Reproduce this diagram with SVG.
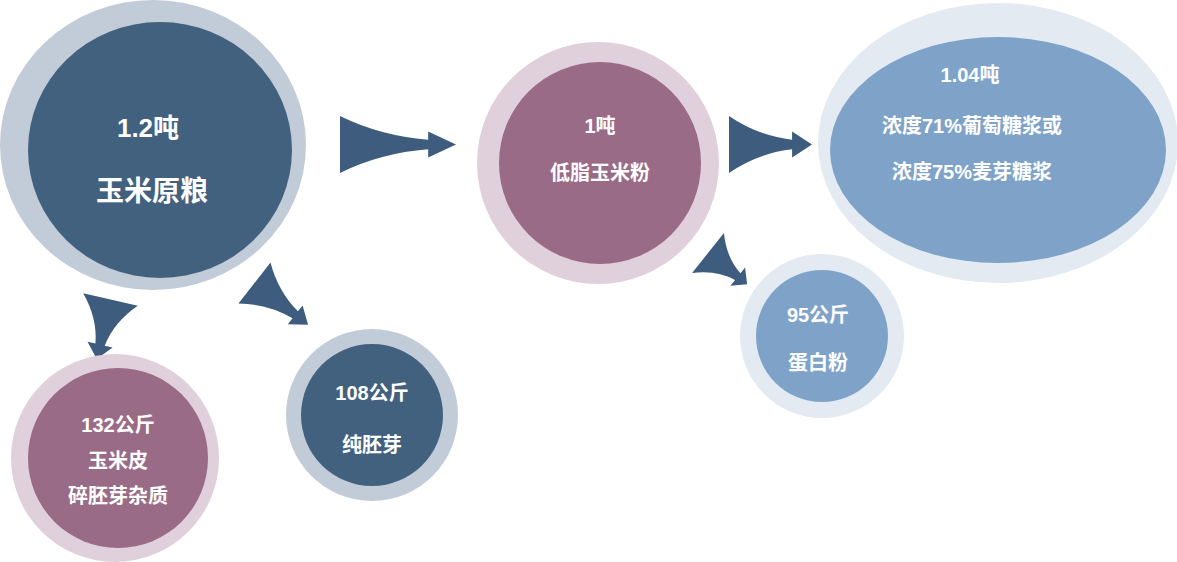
<svg xmlns="http://www.w3.org/2000/svg" width="1177" height="562" viewBox="0 0 1177 562">
<defs>
<path id="arr" d="M0,-1 Q0.35,-0.3 0.76,-0.17 L0.76,-0.46 L1,0 L0.76,0.46 L0.76,0.17 Q0.35,0.3 0,1 Z"/>
<style>
.t{fill:#fff;font-family:"Liberation Sans","Noto Sans CJK SC",sans-serif;font-weight:bold;text-anchor:middle}
.a{fill:#3d5c7e}
</style>
</defs>
<g id="connectors">
<use href="#arr" class="a" transform="translate(340,144.5) scale(116,28.5)"/>
<use href="#arr" class="a" transform="translate(254.5,283) rotate(38) scale(68,26)"/>
<use href="#arr" class="a" transform="translate(110.5,299.5) rotate(103) scale(61,28)"/>
<use href="#arr" class="a" transform="translate(729,144.5) scale(83,28.5)"/>
<use href="#arr" class="a" transform="translate(708,253) rotate(38.5) scale(50,25.6)"/>
</g>
<g id="n1"><ellipse cx="153" cy="145" rx="153" ry="145" fill="#c2ccd8"/><ellipse cx="160" cy="150" rx="132" ry="128" fill="#42617f"/>
<text class="t" x="148" y="137" font-size="26">1.2吨</text><text class="t" x="152" y="201" font-size="28">玉米原粮</text></g>
<g id="n2"><circle cx="115" cy="458" r="104" fill="#e0d0dc"/><circle cx="118" cy="458" r="90" fill="#9a6b86"/>
<text class="t" x="118" y="432" font-size="20">132公斤</text><text class="t" x="118" y="468" font-size="20">玉米皮</text><text class="t" x="118" y="503" font-size="20">碎胚芽杂质</text></g>
<g id="n3"><circle cx="372" cy="415" r="86" fill="#c2ccd8"/><circle cx="372" cy="415" r="71" fill="#42617f"/>
<text class="t" x="372" y="400" font-size="20">108公斤</text><text class="t" x="372" y="452" font-size="20">纯胚芽</text></g>
<g id="n4"><circle cx="598" cy="163" r="121" fill="#e0d0dc"/><circle cx="600" cy="163" r="101" fill="#9a6b86"/>
<text class="t" x="600" y="133" font-size="20">1吨</text><text class="t" x="600" y="180" font-size="20">低脂玉米粉</text></g>
<g id="n5"><ellipse cx="998" cy="143" rx="180" ry="140" fill="#e3eaf2"/><ellipse cx="998" cy="150" rx="168" ry="113" fill="#7fa3c8"/>
<text class="t" x="970" y="82" font-size="20">1.04吨</text><text class="t" x="972" y="133" font-size="20">浓度71%葡萄糖浆或</text><text class="t" x="972" y="179" font-size="20">浓度75%麦芽糖浆</text></g>
<g id="n6"><circle cx="822" cy="336" r="82" fill="#e3eaf2"/><circle cx="822" cy="336" r="66" fill="#7fa3c8"/>
<text class="t" x="818" y="322" font-size="20">95公斤</text><text class="t" x="818" y="370" font-size="20">蛋白粉</text></g>
</svg>
